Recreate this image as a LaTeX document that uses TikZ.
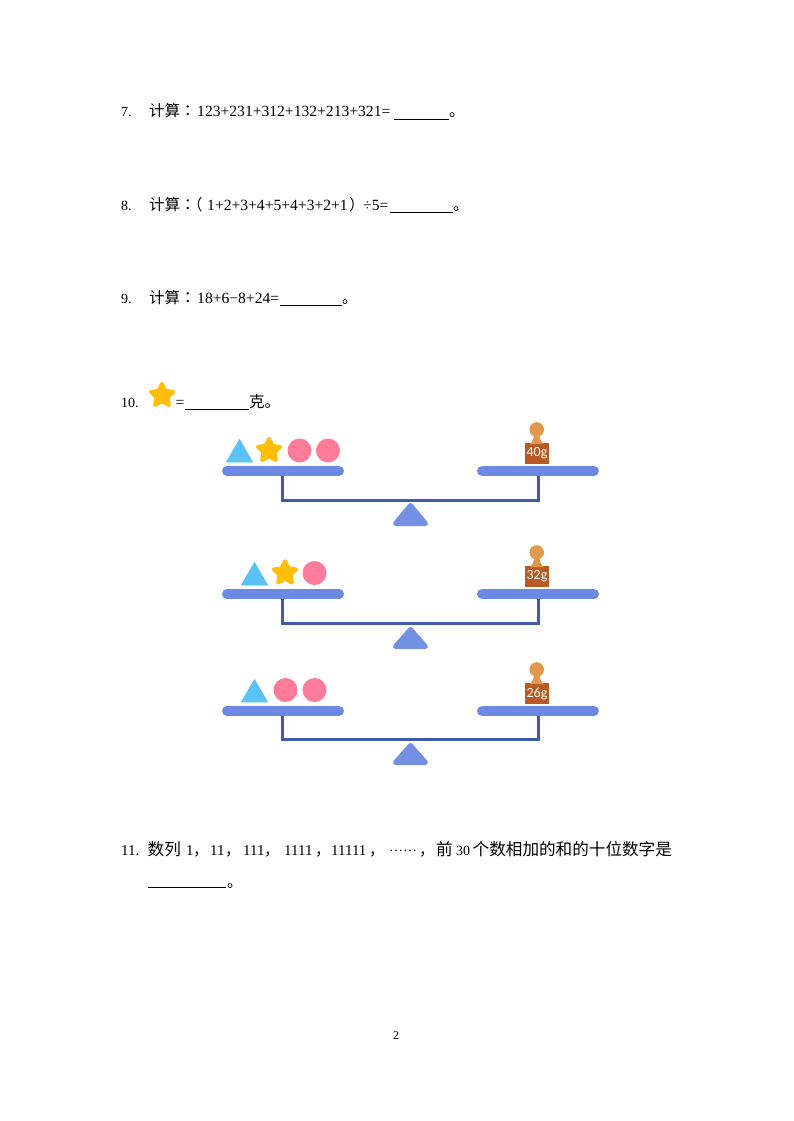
\documentclass[tikz,border=0pt]{standalone}
\usepackage{fontspec}
\setmainfont{Liberation Serif}
\newfontfamily\cjk{Noto Sans CJK SC}
\newfontfamily\cjktc{Noto Sans CJK TC}
\newfontfamily\boxfont{Carlito}
\usetikzlibrary{shapes.geometric}
\definecolor{panblue}{HTML}{6C8AE4}
\definecolor{beamblue}{HTML}{3F5BA9}
\definecolor{fulcblue}{HTML}{7390E2}
\definecolor{triblue}{HTML}{5BC2F7}
\definecolor{stargold}{HTML}{FFBE0A}
\definecolor{ballpink}{HTML}{FF7C98}
\definecolor{headtan}{HTML}{E0994B}
\definecolor{boxbrown}{HTML}{B85A23}
\tikzset{
  txt/.style={anchor=base west,inner sep=0pt,font=\fontsize{15.6}{18}\selectfont},
  small/.style={anchor=base west,inner sep=0pt,font=\fontsize{14}{18}\selectfont},
  mid/.style={anchor=base west,inner sep=0pt,font=\fontsize{15}{18}\selectfont},
  cn/.style={anchor=base west,inner sep=0pt,font=\fontsize{15.5}{18}\selectfont\cjk},
  cnb/.style={anchor=base west,inner sep=0pt,font=\fontsize{16.6}{18}\selectfont\cjk},
  colon/.style={anchor=base west,inner sep=0pt,font=\fontsize{15.5}{18}\selectfont\cjktc},
  blank/.style={line width=0.8pt,black},
  pan/.style={line width=10pt,line cap=round,panblue},
  beam/.style={line width=3pt,beamblue,line join=miter},
  goldstar/.style={star,star points=5,star point ratio=1.95,fill=stargold,draw=stargold,line width=3.5pt,line join=round,inner sep=0pt,minimum size=24pt},
  ball/.style={circle,fill=ballpink,inner sep=0pt,minimum size=24pt},
  tri/.style={fill=triblue,draw=triblue,line width=0.8pt,line join=round},
  fulc/.style={fill=fulcblue,draw=fulcblue,line width=5pt,line join=round},
  wbox/.style={fill=boxbrown,inner sep=0pt,minimum width=24pt,minimum height=21pt,text=white,font=\fontsize{14}{14}\selectfont\boxfont},
}
% #1 prefix, #2 pan y, #3 beam y, #4 fulcrum top, #5 fulcrum bottom, #6 weight label
\newcommand{\balancerig}[6]{
  \coordinate (#1pl) at (227,#2); \coordinate (#1pr) at (339,#2);
  \coordinate (#1ql) at (482,#2); \coordinate (#1qr) at (594,#2);
  \coordinate (#1a) at (282.5,#2); \coordinate (#1b) at (538,#2);
  \draw[beam] (#1a) -- (282.5,#3) -- (538,#3) -- (#1b);
  \draw[pan] (#1pl) -- (#1pr);
  \draw[pan] (#1ql) -- (#1qr);
  \draw[fulc] (410.5,#4) -- (425.5,#5) -- (395.5,#5) -- cycle;
  \node[wbox] (#1w) at (537,#2-17.5) {#6};
  \fill[headtan] (536.7,#2-41.5) circle (7.3);
  \fill[headtan] (530,#2-27) .. controls (533,#2-30) and (534,#2-33) .. (534,#2-37) -- (539.5,#2-37) .. controls (539.5,#2-33) and (540.5,#2-30) .. (543.5,#2-27) -- cycle;
}
\begin{document}
\begin{tikzpicture}[x=1pt,y=-1pt]
\useasboundingbox (0,0) rectangle (793,1121);
\fill[white] (0,0) rectangle (793,1121);
% question 7
\node[small] (q7n) at (121,117) {7.};
\node[cn] (q7a) at (149,117) {计算};
\node[colon] (q7k) at (180,117) {：};
\node[txt] (q7b) at (197,117) {123+231+312+132+213+321=};
\coordinate (u7a) at (394,119.5); \coordinate (u7b) at (449,119.5);
\draw[blank] (u7a) -- (u7b);
\node[cn] (q7c) at (449,117) {。};
% question 8
\node[small] (q8n) at (121,210) {8.};
\node[cn] (q8a) at (149,210) {计算};
\node[colon] (q8k) at (180,210) {：};
\node[cn] (q8p) at (187,210) {（};
\node[txt] (q8b) at (207,210) {1+2+3+4+5+4+3+2+1};
\node[cn] (q8q) at (349,210) {）};
\node[txt] (q8c) at (363,210) {÷5=};
\coordinate (u8a) at (390,212.5); \coordinate (u8b) at (453,212.5);
\draw[blank] (u8a) -- (u8b);
\node[cn] (q8d) at (453,210) {。};
% question 9
\node[small] (q9n) at (121,303) {9.};
\node[cn] (q9a) at (149,303) {计算};
\node[colon] (q9k) at (180,303) {：};
\node[txt] (q9b) at (197,303) {18+6−8+24=};
\coordinate (u9a) at (279.5,305.5); \coordinate (u9b) at (342,305.5);
\draw[blank] (u9a) -- (u9b);
\node[cn] (q9c) at (342,303) {。};
% question 10
\node[small] (q10n) at (121,407) {10.};
\node[goldstar] (s0) at (162,395.5) {};
\node[txt] (q10e) at (175.5,407) {=};
\coordinate (u10a) at (185,409.5); \coordinate (u10b) at (249,409.5);
\draw[blank] (u10a) -- (u10b);
\node[cn] (q10c) at (249,407) {克。};
% balances
\balancerig{A}{471}{500}{505.5}{523.5}{40g}
\balancerig{B}{594}{623}{629.5}{646.5}{32g}
\balancerig{C}{711}{739}{745.5}{762.5}{26g}
% row 1
\draw[tri] (239.5,439.5) -- (252.5,462) -- (226.5,462) -- cycle;
\node[goldstar] (s1) at (269,450.5) {};
\node[ball] (b1) at (299.5,450.5) {};
\node[ball] (b2) at (328,450.5) {};
% row 2
\draw[tri] (254.5,562.5) -- (267.5,585) -- (241.5,585) -- cycle;
\node[goldstar] (s2) at (285,573) {};
\node[ball] (b3) at (314.5,573) {};
% row 3
\draw[tri] (254.5,679.5) -- (267.5,702) -- (241.5,702) -- cycle;
\node[ball] (b4) at (285.5,690) {};
\node[ball] (b5) at (314.5,690) {};
% question 11
\node[mid] (q11n) at (121,855) {11.};
\node[cnb] (q11a) at (147.5,855) {数列};
\node[mid] (q11b) at (186,855) {1};
\node[cn] (c1) at (193,855) {，};
\node[mid] (q11c) at (210,855) {11};
\node[cn] (c2) at (225,855) {，};
\node[mid] (q11d) at (243,855) {111};
\node[cn] (c3) at (264,855) {，};
\node[mid] (q11e) at (284,855) {1111};
\node[cn] (c4) at (315,855) {，};
\node[mid] (q11f) at (331,855) {11111};
\node[cn] (c5) at (369,855) {，};
\node[small] (q11g) at (389,851) {……};
\node[cn] (c6) at (419,855) {，};
\node[cnb] (q11h) at (436,855) {前};
\node[small] (q11i) at (456,855) {30};
\node[cnb] (q11j) at (472.5,855) {个数相加的和的十位数字是};
\coordinate (u11a) at (148,887.5); \coordinate (u11b) at (225.5,887.5);
\draw[blank] (u11a) -- (u11b);
\node[cn] (q11k) at (227,887) {。};
% page number
\node[anchor=base west,inner sep=0pt,font=\fontsize{12}{14}\selectfont] (pg) at (393,1039) {2};
\end{tikzpicture}
\end{document}
